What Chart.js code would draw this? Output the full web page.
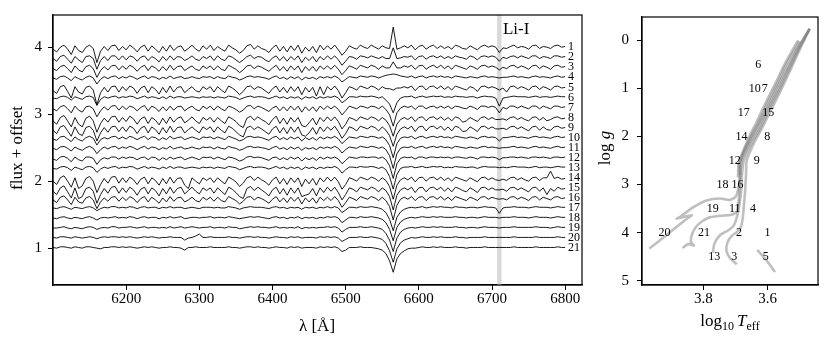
<!DOCTYPE html>
<html><head><meta charset="utf-8">
<script src="https://cdn.jsdelivr.net/npm/chart.js@4.4.0/dist/chart.umd.min.js"></script>
<style>
html,body{margin:0;padding:0;background:#fff;width:830px;height:349px;overflow:hidden}
#c1{position:absolute;left:0;top:0}
#c2{position:absolute;left:590px;top:0}
</style></head><body>
<canvas id="c1" width="600" height="349"></canvas>
<canvas id="c2" width="240" height="349"></canvas>
<script>
const FONT = "'Liberation Serif','Times New Roman',serif";

// ---------- left panel data ----------
const wavelength = [
6100,6105,6110,6115,6120,6125,6130,6135,6140,6145,
6150,6155,6160,6165,6170,6175,6180,6185,6190,6195,
6200,6205,6210,6215,6220,6225,6230,6235,6240,6245,
6250,6255,6260,6265,6270,6275,6280,6285,6290,6295,
6300,6305,6310,6315,6320,6325,6330,6335,6340,6345,
6350,6355,6360,6365,6370,6375,6380,6385,6390,6395,
6400,6405,6410,6415,6420,6425,6430,6435,6440,6445,
6450,6455,6460,6465,6470,6475,6480,6485,6490,6495,
6500,6505,6510,6515,6520,6525,6530,6535,6540,6545,
6550,6555,6560,6565,6570,6575,6580,6585,6590,6595,
6600,6605,6610,6615,6620,6625,6630,6635,6640,6645,
6650,6655,6660,6665,6670,6675,6680,6685,6690,6695,
6700,6705,6710,6715,6720,6725,6730,6735,6740,6745,
6750,6755,6760,6765,6770,6775,6780,6785,6790,6795,
6800];
const CONTINUUM = 1.02;            // normalised continuum level
const offsets = [3.00,2.85,2.70,2.55,2.40,2.25,2.10,1.95,1.80,1.65,1.50,1.35,1.20,1.05,0.90,0.75,0.60,0.45,0.30,0.15,0.00];
const specLabels = ["1","2","3","4","5","6","7","8","9","10","11","12","13","14","15","16","17","18","19","20","21"];
const xTicksLeft = [6200,6300,6400,6500,6600,6700,6800];
const yTicksLeft = [1,2,3,4];
const liBand = [6707,6713];
// flux deviations from continuum, in percent, on the wavelength grid
const s1=[-5,-9,-2,1,-5,-13,0,-7,-10,-2, 1,-4,-25,-8,-1,-7,0,1,-7,-1, -6,1,-3,-9,-2,1,-8,0,-5,-10, -1,-8,1,-7,-2,0,-8,-4,1,-5, -8,0,-5,1,-7,-1,-5,-8,1,-3, -6,-11,-7,0,2,-5,0,-4,-6,-10, -3,1,-8,-1,-9,0,-7,1,-11,-2, -8,-1,-10,1,-6,0,-5,1,-6,-14, -8,0,-3,-5,1,-2,-4,1,-2,-5, 0,-3,-4,28,-5,-3,0,-3,1,-6, -1,1,-5,-1,1,-4,0,-4,-1,-5, 1,-1,-4,-5,0,-3,-6,-1,1,-2, 0,-2,-10,-3,-4,-1,1,-3,-1,-2, -5,0,1,-4,-1,-2,-4,0,1,-2,-1];
const s2=[-4,-8,-1,1,-5,-11,-1,-6,-10,-1, 0,-4,-20,-7,-1,-7,0,0,-6,0, -6,0,-2,-8,-2,0,-7,-1,-4,-9, -1,-7,0,-6,-1,-2,-7,-4,0,-5, -7,-1,-4,0,-7,0,-5,-7,0,-2, -6,-10,-6,-1,1,-4,-1,-2,-6,-9, -3,0,-7,-1,-8,-1,-6,0,-10,-2, -7,-1,-9,-1,-6,0,-5,0,-6,-14, -8,-1,-2,-5,0,-1,-3,0,-2,-4, -1,-4,-4,12,-4,-3,-1,-2,0,-6, -1,0,-5,-1,0,-3,0,-4,-1,-4, 0,-2,-3,-5,0,-2,-6,-1,0,-2, 0,-2,-8,-2,-4,-1,0,-3,0,-2, -4,0,0,-4,-1,-2,-4,0,0,-2,-1];
const s3=[-4,-7,-1,1,-4,-10,0,-6,-9,-1, 1,-4,-17,-7,-1,-6,0,1,-6,0, -5,1,-2,-8,-2,1,-7,0,-3,-8, -1,-7,1,-6,-1,0,-7,-3,0,-5, -7,0,-4,0,-6,0,-5,-7,1,-2, -5,-10,-6,0,1,-4,0,-2,-5,-8, -3,1,-7,-1,-8,0,-6,0,-10,-1, -7,-1,-8,0,-5,0,-5,1,-5,-13, -7,0,-2,-5,1,-1,-3,1,-1,-5, 0,-3,-3,6,-3,-3,0,-2,1,-5, 0,1,-5,-1,1,-3,1,-4,0,-5, 1,-1,-3,-5,0,-2,-5,0,1,-2, 0,-2,-6,-2,-4,0,1,-3,0,-2, -5,0,1,-4,0,-2,-5,0,1,-2,-1];
const s4=[-3,-5,-1,0,-3,-7,-1,-4,-6,-2, 0,-3,-12,-5,-1,-4,-1,0,-4,-1, -3,0,-2,-5,-2,0,-4,-1,-2,-5, -2,-4,0,-4,-2,-1,-4,-3,-1,-3, -4,-1,-2,-1,-4,-1,-3,-4,0,-2, -3,-6,-4,-1,0,-2,-1,-2,-3,-5, -2,0,-4,-2,-5,-1,-4,-1,-6,-2, -4,-2,-5,-1,-3,-1,-3,0,-3,-9, -5,-1,-2,-3,0,-1,-2,0,-1,-3, -1,1,2,3,2,0,-1,-2,0,-3, -1,0,-3,-1,0,-2,0,-2,-1,-3, 0,-1,-2,-3,-1,-2,-3,-1,0,-2, -1,-2,-3,-2,-2,-1,0,-2,-1,-2, -3,-1,0,-2,-1,-2,-3,-1,0,-2,-1];
const s5=[-7,-11,-1,1,-8,-18,-1,-9,-12,-2, 0,-6,-28,-10,-2,-9,-1,0,-9,-1, -7,0,-3,-11,-3,0,-10,-1,-5,-12, -2,-10,0,-9,-2,-1,-10,-5,-1,-7, -9,-1,-5,-1,-9,-1,-6,-10,0,-3, -7,-13,-8,-1,0,-5,-1,-3,-7,-11, -4,0,-9,-2,-10,-1,-8,-1,-13,-2, -9,-2,-15,-1,-13,-1,-6,0,-7,-18, -10,-1,-3,-6,0,-2,-4,0,-2,-6, -1,-4,-4,-6,-3,-3,-1,-3,0,-7, -1,0,-6,-1,0,-4,0,-5,-1,-6, 0,-2,-4,-6,-1,-3,-8,-1,0,-3, -1,-3,-6,-3,-9,-1,0,-4,-1,-3, -6,-1,0,-5,-1,-3,-6,-1,0,-3,-2];
const s6=[-3,-4,-1,0,-2,-6,-1,-3,-5,-1, 0,-2,-14,-5,-1,-3,-1,0,-3,-1, -2,0,-1,-4,-2,0,-3,-1,-2,-4, -1,-4,0,-3,-1,-1,-3,-2,-1,-2, -3,-1,-2,-1,-3,-1,-2,-3,0,-1, -2,-5,-3,-1,0,-2,-1,-1,-2,-4, -2,0,-3,-1,-4,-1,-3,-1,-5,-1, -3,-1,-4,-1,-3,-1,-2,0,-3,-10, -6,-1,-1,-2,0,-1,-1,0,-1,-3, -1,-6,-12,-25,-10,-3,-1,-1,0,-3, -1,0,-2,-1,0,-1,0,-2,-1,-2, 0,-1,-1,-2,-1,-1,-3,-1,0,-1, -1,-3,-15,-3,-2,-1,0,-1,-1,-1, -2,-1,0,-2,-1,-1,-2,-1,0,-1,-1];
const s7=[-4,-7,-1,1,-4,-10,0,-6,-9,-1, 0,-4,-16,-7,-1,-6,0,1,-6,0, -5,0,-2,-7,-2,1,-7,0,-3,-8, -1,-7,0,-6,-1,0,-7,-3,0,-5, -7,0,-4,0,-6,0,-4,-7,0,-2, -5,-9,-6,0,1,-4,0,-2,-5,-8, -3,0,-7,-1,-7,0,-6,0,-9,-1, -7,-1,-8,0,-5,0,-4,0,-5,-13, -7,0,-2,-4,0,-1,-3,0,-1,-4, 0,-5,-13,-30,-10,-3,0,-2,0,-5, 0,0,-4,-1,0,-3,0,-3,0,-4, 0,-1,-3,-4,0,-2,-5,0,0,-2, 0,-2,-10,-2,-4,0,0,-3,0,-2, -4,0,0,-4,0,-2,-4,0,0,-2,-1];
const s8=[-7,-12,-2,1,-7,-16,-2,-12,-16,-3, 0,-7,-24,-11,-3,-9,-1,0,-9,-2, -8,0,-4,-12,-4,-1,-11,-2,-6,-13, -3,-11,-1,-9,-3,-1,-10,-6,-1,-7, -11,-2,-6,-2,-9,-2,-7,-11,-1,-4, -8,-14,-17,-3,0,-6,-1,-5,-8,-13, -5,0,-11,-3,-12,-2,-9,-2,-14,-16, -10,-3,-13,-2,-8,-1,-7,-1,-8,-19, -12,-2,-4,-7,-1,-3,-5,-1,-3,-7, -2,-6,-14,-30,-12,-5,-2,-5,-1,-8, -2,-1,-7,-2,-1,-5,-1,-6,-2,-7, -1,-3,-9,-7,-2,-5,-8,-2,-1,-5, -2,-5,-5,-4,-6,-2,-1,-5,-2,-5, -7,-2,-1,-6,-2,-7,-5,-2,-1,-4,-3];
const s9=[-6,-11,-1,1,-7,-15,-1,-11,-14,-2, 0,-6,-22,-10,-2,-9,-1,0,-8,-1, -8,0,-3,-11,-3,0,-10,-1,-5,-12, -2,-10,0,-9,-2,-1,-10,-5,-1,-6, -10,-1,-5,-1,-9,-1,-6,-10,0,-3, -8,-13,-16,-2,0,-5,-1,-4,-8,-12, -4,0,-10,-2,-11,-1,-9,-1,-13,-15, -10,-2,-12,-1,-8,-1,-6,0,-8,-18, -11,-1,-3,-7,0,-2,-4,0,-2,-7, -1,-6,-14,-30,-12,-4,-1,-4,0,-8, -1,0,-7,-1,0,-4,0,-6,-1,-7, 0,-2,-8,-7,-1,-4,-8,-1,0,-4, -1,-4,-4,-3,-5,-1,0,-4,-1,-4, -7,-1,0,-6,-1,-5,-6,-1,0,-3,-2];
const s10=[-4,-6,-1,0,-4,-8,-1,-5,-7,-2, 0,-3,-13,-5,-2,-4,-1,0,-4,-1, -4,0,-2,-5,-2,0,-5,-1,-2,-6, -2,-5,0,-4,-2,-1,-5,-3,-1,-3, -5,-1,-2,-1,-4,-1,-3,-5,0,-2, -4,-7,-5,-1,0,-2,-1,-2,-4,-6, -2,0,-5,-2,-5,-1,-4,-1,-7,-2, -5,-2,-6,-1,-4,-1,-3,0,-4,-11, -6,-1,-2,-3,0,-1,-2,0,-1,-3, -1,-5,-14,-32,-11,-3,-1,-2,0,-4, -1,0,-3,-1,0,-2,0,-2,-1,-3, 0,-1,-2,-3,-1,-2,-4,-1,0,-2, -1,-2,-7,-2,-2,-1,0,-2,-1,-2, -3,-1,0,-2,-1,-2,-3,-1,0,-2,-1];
const s11=[-3,-5,-1,0,-3,-7,-1,-4,-6,-2, 0,-3,-11,-5,-1,-4,-1,0,-4,-1, -3,0,-2,-5,-2,0,-4,-1,-2,-5, -2,-4,0,-4,-2,-1,-4,-3,-1,-3, -4,-1,-2,-1,-4,-1,-3,-4,0,-2, -3,-6,-4,-1,0,-2,-1,-2,-3,-5, -2,0,-4,-2,-5,-1,-4,-1,-6,-2, -4,-2,-5,-1,-3,-1,-3,0,-3,-10, -5,-1,-2,-3,0,-1,-2,0,-1,-3, -1,-5,-14,-33,-11,-3,-1,-2,0,-3, -1,0,-3,-1,0,-2,0,-2,-1,-3, 0,-1,-2,-3,-1,-2,-3,-1,0,-2, -1,-2,-3,-2,-2,-1,0,-2,-1,-2, -3,-1,0,-2,-1,-2,-3,-1,0,-2,-1];
const s12=[-4,-6,-1,0,-3,-8,-1,-5,-7,-1, -1,-3,-12,-5,-2,-4,-1,-1,-4,-1, -3,-1,-2,-5,-2,-1,-5,-1,-2,-6, -2,-5,-1,-4,-2,-1,-5,-3,-1,-3, -5,-1,-2,-1,-4,-1,-3,-5,-1,-2, -4,-7,-5,-1,0,-2,-1,-2,-4,-6, -2,-1,-5,-2,-5,-1,-4,-1,-7,-2, -5,-2,-6,-1,-4,-1,-3,-1,-4,-11, -6,-1,-2,-3,-1,-1,-2,-1,-1,-3, -1,-5,-14,-33,-11,-3,-1,-2,-1,-4, -1,-1,-3,-1,-1,-2,-1,-2,-1,-3, -1,-1,-2,-3,-1,-2,-4,-1,-1,-2, -1,-2,-5,-2,-2,-1,-1,-2,-1,-2, -3,-1,-1,-2,-1,-2,-3,-1,-1,-2,-1];
const s13=[-3,-4,-1,0,-2,-6,-1,-3,-5,-1, 0,-2,-9,-4,-1,-3,-1,0,-3,-1, -2,0,-1,-4,-2,0,-3,-1,-2,-4, -1,-3,0,-3,-1,-1,-3,-2,-1,-2, -3,-1,-2,-1,-3,-1,-2,-3,0,-1, -2,-5,-3,-1,0,-2,-1,-1,-2,-4, -2,0,-3,-1,-4,-1,-3,-1,-5,-1, -3,-1,-4,-1,-3,-1,-2,0,-3,-10, -5,-1,-1,-2,0,-1,-1,0,-1,-3, -1,-5,-15,-34,-12,-3,-1,-1,0,-2, -1,0,-2,-1,0,-1,0,-2,-1,-2, 0,-1,-1,-2,-1,-1,-3,-1,0,-1, -1,-1,-2,-1,-2,-1,0,-1,-1,-1, -2,-1,0,-2,-1,-1,-2,-1,0,-1,-1];
const s14=[-7,-12,-2,1,-7,-16,-2,-18,-14,-3, 0,-7,-24,-12,-3,-10,-1,0,-10,-2, -9,-1,-5,-12,-4,-1,-11,-2,-6,-13, -3,-11,-1,-10,-3,-2,-13,-18,-2,-7, -11,-2,-6,-2,-9,-2,-7,-11,-1,-4, -8,-15,-10,-2,0,-6,-1,-5,-8,-13, -5,-1,-11,-3,-12,-2,-9,-2,-15,-4, -11,-3,-13,-2,-8,-1,-7,-1,-8,-19, -12,-2,-4,-7,-1,-3,-5,-1,-3,-7, -2,-6,-15,-34,-13,-5,-2,-5,-1,-8, -2,-1,-7,-2,-1,-5,-1,-6,-2,-7, -1,-3,-5,-7,-2,-5,-8,-2,-1,-5, -2,-5,-6,-4,-6,-2,-1,-5,-2,-5, -7,-2,-1,-6,-2,-2,8,-3,-1,-4,-3];
const s15=[-7,-12,-2,1,-8,-17,-2,-18,-15,-3, -1,-7,-25,-12,-3,-10,-1,0,-10,-2, -9,-1,-5,-13,-4,-1,-11,-2,-6,-14, -3,-11,-1,-10,-3,-1,-11,-6,-1,-7, -11,-2,-6,-2,-10,-2,-7,-12,-1,-4, -9,-15,-18,-3,0,-6,-1,-5,-9,-14, -5,-1,-11,-3,-13,-2,-10,-2,-15,-13, -11,-3,-14,-2,-9,-1,-7,-1,-9,-20, -12,-2,-4,-8,-1,-3,-5,-1,-3,-8, -2,-6,-15,-35,-13,-5,-2,-5,-1,-9, -2,-1,-8,-2,-1,-5,-1,-7,-2,-8, -1,-3,-6,-8,-2,-5,-9,-2,-1,-5, -2,-5,-5,-4,-7,-2,-1,-5,-2,-5, -8,-2,-1,-7,-2,-12,-3,-7,-1,-4,-3];
const s16=[-5,-9,-1,1,-5,-12,-1,-8,-10,-2, 0,-5,-18,-8,-2,-7,-1,0,-7,-1, -6,0,-3,-9,-3,0,-8,-1,-5,-10, -2,-8,0,-7,-2,-1,-8,-5,-1,-6, -8,-1,-5,-1,-7,-1,-6,-8,0,-3, -6,-11,-7,-1,0,-5,-1,-3,-6,-10, -4,0,-8,-2,-9,-1,-7,-1,-11,-2, -8,-2,-10,-1,-6,-1,-6,0,-6,-16, -9,-1,-3,-6,0,-2,-4,0,-2,-6, -1,-6,-15,-35,-13,-4,-1,-4,0,-6, -1,0,-6,-1,0,-4,0,-5,-1,-6, 0,-2,-4,-6,-1,-3,-6,-1,0,-4, -1,-3,-4,-3,-5,-1,0,-4,-1,-3, -6,-1,0,-5,-1,-3,-5,-1,0,-3,-2];
const s17=[-2,-3,-1,0,-2,-4,-1,-2,-3,-1, 0,-2,-6,-3,-1,-2,0,0,-2,-1, -2,0,-1,-3,-1,0,-2,-1,-1,-3, -1,-2,0,-2,-1,-1,-3,-2,-1,-2, -3,-1,-1,-1,-2,-1,-2,-2,0,-1, -2,-4,-2,-1,0,-1,-1,-1,-2,-3, -1,0,-2,-1,-3,-1,-2,-1,-4,-1, -2,-1,-3,-1,-2,0,-2,0,-2,-9, -5,-1,-1,-2,0,-1,-1,0,-1,-2, -4,-9,-19,-36,-16,-8,-4,-2,-1,-2, -1,0,-2,-1,0,-1,0,-1,-1,-2, 0,-1,-1,-2,-1,-1,-2,-1,0,-1, -1,-2,-10,-2,-1,-1,0,-1,-1,-1, -2,-1,0,-1,-1,-1,-2,-1,0,-1,-1];
const s18=[-2,-3,-1,0,-2,-3,-1,-2,-3,-1, 0,-2,-5,-2,-1,-2,-1,0,-2,-1, -2,0,-1,-3,-1,0,-2,-1,-1,-3, -1,-2,0,-2,-1,0,-3,-2,-1,-1, -2,-1,-1,0,-2,-1,-1,-2,0,-1, -2,-3,-2,-1,0,-1,0,-1,-2,-3, -1,0,-2,-1,-3,-1,-2,0,-3,-1, -2,-1,-3,-1,-2,0,-1,0,-2,-9, -5,-1,-1,-2,0,-1,-1,0,-1,-2, -4,-9,-19,-36,-16,-8,-4,-2,-1,-2, -1,0,-1,-1,0,-1,0,-1,-1,-1, 0,-1,-1,-2,-1,-1,-2,-1,0,-1, -1,-1,-2,-1,-1,-1,0,-1,-1,-1, -2,-1,0,-1,-1,-1,-2,-1,0,-1,-1];
const s19=[-2,-2,-1,0,-2,-3,-1,-2,-3,-1, 0,-1,-4,-2,-1,-2,0,0,-2,-1, -1,0,-1,-2,-1,0,-2,-1,-1,-2, -1,-2,0,-2,-1,0,-2,-1,0,-1, -2,-1,-1,0,-2,-1,-1,-2,0,-1, -1,-3,-2,-1,0,-1,0,-1,-1,-2, -1,0,-2,-1,-2,-1,-2,0,-3,-1, -2,-1,-2,-1,-1,0,-1,0,-2,-8, -4,-1,-1,-1,0,-1,-1,0,-1,-2, -4,-10,-20,-37,-17,-8,-4,-2,-1,-2, -1,0,-1,-1,0,-1,0,-1,-1,-1, 0,-1,-1,-2,-1,-1,-2,-1,0,-1, -1,-1,-2,-1,-1,-1,0,-1,-1,-1, -1,-1,0,-1,-1,-1,-2,-1,0,-1,-1];
const s20=[-1,-2,0,0,-1,-2,0,-1,-2,-1, 0,-1,-3,-1,0,-1,0,0,-1,0, -1,0,-1,-2,-1,0,-1,0,-1,-2, -1,-1,0,-1,-1,-1,-5,-2,-1,1, 4,-1,-1,0,-1,-1,-1,-1,0,-1, -1,-2,-1,0,0,-1,0,-1,-1,-2, -1,0,-1,-1,-2,0,-1,0,-2,-1, -1,-1,-2,0,-1,0,-1,0,-2,-7, -4,-1,-1,-1,0,-1,-1,0,-1,-2, -4,-10,-21,-38,-18,-9,-5,-3,-1,-2, -1,0,-1,-1,0,-1,0,-1,-1,-1, 0,-1,-1,-2,-1,-1,-1,-1,0,-1, -1,-1,-1,-1,-1,-1,0,-1,-1,-1, -1,-1,0,-1,-1,-1,-1,-1,0,-1,-1];
const s21=[-1,-2,0,0,-1,-2,0,-1,-2,0, 0,-1,-2,-3,-1,-1,0,0,-1,0, -1,0,-1,-2,-1,0,-1,0,-1,-2, -1,-1,0,-1,-1,-2,-5,-1,-1,0, -1,-1,-1,0,-1,-1,-1,-1,0,-1, -1,-2,-1,0,0,-1,0,-1,-1,-2, -1,0,-1,-1,-2,0,-1,0,-2,-1, -1,-1,-2,0,-1,0,-1,0,-2,-7, -5,-1,-1,-1,0,-1,-1,-1,-2,-3, -5,-10,-21,-38,-18,-10,-6,-3,-2,-2, -1,0,-1,-1,0,-1,0,-1,-1,-1, 0,-1,-1,-2,-1,-1,-1,-1,0,-1, -1,-1,-1,-1,-1,-1,0,-1,-1,-1, -1,-1,0,-1,-1,-1,-1,-1,0,-1,-1];
const spectra=[s1,s2,s3,s4,s5,s6,s7,s8,s9,s10,s11,s12,s13,s14,s15,s16,s17,s18,s19,s20,s21];

// ---------- right panel data (log Teff, log g) ----------
const iso1T=[3.968,3.924,3.883,3.847,3.836,3.883,3.872,3.831,3.790,3.748,3.717,3.699,3.690,3.686,3.684,3.662,3.634,3.602,3.572,3.541,3.508,3.469];
const iso1G=[4.33,4.10,3.88,3.69,3.64,3.71,3.67,3.47,3.33,3.29,3.32,3.25,3.05,2.84,2.50,2.16,1.82,1.41,1.00,0.59,0.18,-0.24];
const iso2T=[3.865,3.847,3.829,3.839,3.833,3.816,3.784,3.748,3.712,3.696,3.690,3.688,3.686,3.680,3.657,3.628,3.597,3.566,3.536,3.505,3.469];
const iso2G=[4.32,4.24,4.27,4.19,4.00,3.83,3.69,3.65,3.63,3.56,3.35,3.12,2.84,2.50,2.16,1.82,1.41,1.00,0.59,0.18,-0.24];
const iso3T=[3.770,3.766,3.748,3.722,3.705,3.696,3.688,3.682,3.680,3.674,3.651,3.622,3.592,3.561,3.532,3.502,3.469];
const iso3G=[4.42,4.24,4.05,3.95,3.85,3.69,3.42,3.12,2.84,2.50,2.16,1.82,1.41,1.00,0.59,0.18,-0.24];
const iso4T=[3.696,3.717,3.728,3.725,3.712,3.696,3.684,3.678,3.674,3.670,3.667,3.665,3.644,3.617,3.586,3.556,3.527,3.499,3.469];
const iso4G=[4.66,4.53,4.38,4.21,4.07,3.99,3.90,3.73,3.46,3.15,2.77,2.50,2.16,1.82,1.41,1.00,0.59,0.18,-0.24];
const iso5T=[3.632,3.603,3.577];
const iso5G=[4.36,4.58,4.82];
const agb1T=[3.692,3.690,3.676,3.657,3.634,3.606,3.576,3.543,3.505];
const agb1G=[2.85,2.55,2.30,2.00,1.70,1.30,0.90,0.45,0.00];
const agb2T=[3.686,3.687,3.672,3.652,3.628,3.600,3.570,3.538,3.500];
const agb2G=[2.80,2.55,2.28,2.00,1.70,1.30,0.90,0.45,0.02];
const starLabels=["6","10","7","17","15","14","8","12","9","18","16","19","11","4","20","21","2","1","13","3","5"];
const starT=[3.629,3.640,3.609,3.674,3.598,3.681,3.601,3.702,3.634,3.740,3.694,3.771,3.702,3.645,3.921,3.798,3.689,3.600,3.766,3.704,3.606];
const starG=[0.5,1.0,1.0,1.5,1.5,2.0,2.0,2.5,2.5,3.0,3.0,3.5,3.5,3.5,4.0,4.0,4.0,4.0,4.5,4.5,4.5];
const xTicksRight=[3.6,3.8];
const yTicksRight=[0,1,2,3,4,5];

// ---------- helpers ----------
function frame(chart){
  const {ctx,chartArea:a}=chart;
  ctx.save();ctx.strokeStyle='#000';ctx.lineWidth=1.2;
  ctx.strokeRect(a.left,a.top,a.right-a.left,a.bottom-a.top);ctx.restore();
}
function drawParts(ctx,parts,x,y){
  let w=0;
  parts.forEach(p=>{ctx.font=p.f;w+=ctx.measureText(p.t).width+(p.gap||0);});
  let cx=x-w/2;
  parts.forEach(p=>{ctx.font=p.f;ctx.fillText(p.t,cx,y+(p.dy||0));cx+=ctx.measureText(p.t).width+(p.gap||0);});
}
const axisCommon = {
  grid:{drawOnChartArea:false,drawTicks:true,tickLength:5,color:'#000',tickWidth:1},
  border:{display:true,color:'#000',width:1.2}
};
const TICKSIZE = 15;

// ---------- left chart ----------
const leftDatasets = spectra.map((dev,i)=>({
  data: wavelength.map((w,k)=>({x:w,y:CONTINUUM+dev[k]/100+offsets[i]})),
  borderColor:'#000',borderWidth:0.9,pointRadius:0,tension:0,fill:false
}));
const leftPlugin={
  id:'leftDecor',
  beforeDatasetsDraw(chart){
    const {ctx,chartArea:a,scales:{x}}=chart;
    const x0=x.getPixelForValue(liBand[0]),x1=x.getPixelForValue(liBand[1]);
    ctx.save();ctx.fillStyle='#d9d9d9';ctx.fillRect(x0,a.top,x1-x0,a.bottom-a.top);ctx.restore();
  },
  afterDraw(chart){
    const {ctx,scales:{x,y}}=chart;
    frame(chart);
    ctx.save();ctx.fillStyle='#000';
    ctx.font=`12px ${FONT}`;ctx.textAlign='left';ctx.textBaseline='middle';
    specLabels.forEach((t,i)=>ctx.fillText(t,x.getPixelForValue(6804),y.getPixelForValue(offsets[i]+1.0)));
    ctx.font=`17px ${FONT}`;ctx.textBaseline='alphabetic';
    ctx.fillText('Li-I',x.getPixelForValue(6715),y.getPixelForValue(4.19));
    ctx.textAlign='center';ctx.textBaseline='middle';
    ctx.font=`17px ${FONT}`;
    ctx.fillText('\u03bb [\u00c5]',317,327);
    ctx.translate(18,148);ctx.rotate(-Math.PI/2);
    ctx.fillText('flux + offset',0,0);
    ctx.restore();
  }
};
new Chart(document.getElementById('c1'),{
  type:'line',
  data:{datasets:leftDatasets},
  options:{
    responsive:false,animation:false,
    layout:{padding:{top:12,right:18,left:0,bottom:0}},
    plugins:{legend:{display:false},tooltip:{enabled:false}},
    scales:{
      x:{type:'linear',min:6100,max:6823,...axisCommon,
        afterBuildTicks:s=>{s.ticks=xTicksLeft.map(v=>({value:v}));},
        afterFit:s=>{s.height=64;},
        ticks:{font:{family:FONT,size:TICKSIZE},color:'#000',padding:0,maxRotation:0,callback:v=>String(v)}},
      y:{type:'linear',min:0.45,max:4.48,...axisCommon,
        afterBuildTicks:s=>{s.ticks=yTicksLeft.map(v=>({value:v}));},
        afterFit:s=>{s.width=53;},
        ticks:{font:{family:FONT,size:TICKSIZE},color:'#000',padding:6,callback:v=>String(v)}}
    }
  },
  plugins:[leftPlugin]
});

// ---------- right chart ----------
const isoStyle={borderColor:'rgba(128,128,128,0.5)',borderWidth:2.6,pointRadius:0,showLine:true,tension:0.25,fill:false};
function pts(T,G){return T.map((t,i)=>({x:t,y:G[i]}));}
const rightDatasets=[
  {data:pts(iso1T,iso1G),...isoStyle},
  {data:pts(iso2T,iso2G),...isoStyle},
  {data:pts(iso3T,iso3G),...isoStyle},
  {data:pts(iso4T,iso4G),...isoStyle},
  {data:pts(iso5T,iso5G),...isoStyle},
  {data:pts(agb1T,agb1G),...isoStyle},
  {data:pts(agb2T,agb2G),...isoStyle}
];
const rightPlugin={
  id:'rightDecor',
  afterDraw(chart){
    const {ctx,scales:{x,y}}=chart;
    frame(chart);
    ctx.save();ctx.fillStyle='#000';
    ctx.font=`12px ${FONT}`;ctx.textAlign='center';ctx.textBaseline='middle';
    starLabels.forEach((t,i)=>ctx.fillText(t,x.getPixelForValue(starT[i]),y.getPixelForValue(starG[i])));
    ctx.textAlign='left';ctx.textBaseline='alphabetic';
    drawParts(ctx,[
      {t:'log',f:`17px ${FONT}`},
      {t:'10',f:`12px ${FONT}`,dy:4,gap:3},
      {t:'T',f:`italic 17px ${FONT}`},
      {t:'eff',f:`12px ${FONT}`,dy:4}
    ],140,326);
    ctx.translate(15,148);ctx.rotate(-Math.PI/2);
    drawParts(ctx,[{t:'log ',f:`17px ${FONT}`},{t:'g',f:`italic 17px ${FONT}`}],0,5);
    ctx.restore();
  }
};
new Chart(document.getElementById('c2'),{
  type:'scatter',
  data:{datasets:rightDatasets},
  options:{
    responsive:false,animation:false,
    layout:{padding:{top:12,right:12,left:0,bottom:0}},
    plugins:{legend:{display:false},tooltip:{enabled:false}},
    scales:{
      x:{type:'linear',reverse:true,min:3.443,max:3.991,...axisCommon,
        afterBuildTicks:s=>{s.ticks=xTicksRight.map(v=>({value:v}));},
        afterFit:s=>{s.height=64;},
        ticks:{font:{family:FONT,size:TICKSIZE},color:'#000',padding:0,maxRotation:0,callback:v=>v.toFixed(1)}},
      y:{type:'linear',reverse:true,min:-0.485,max:5.09,...axisCommon,
        afterBuildTicks:s=>{s.ticks=yTicksRight.map(v=>({value:v}));},
        afterFit:s=>{s.width=52;},
        ticks:{font:{family:FONT,size:TICKSIZE},color:'#000',padding:8,callback:v=>String(v)}}
    }
  },
  plugins:[rightPlugin]
});
</script>
</body></html>
